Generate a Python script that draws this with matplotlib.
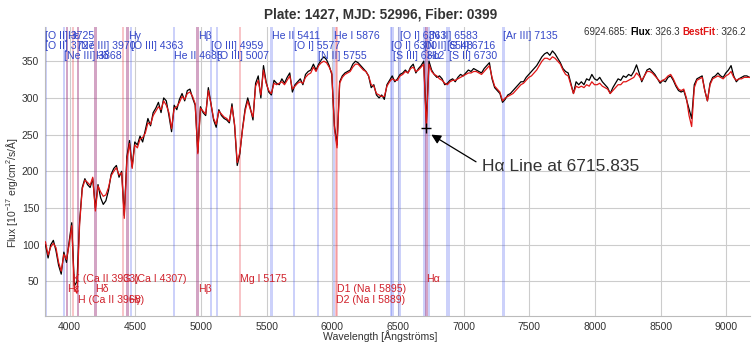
import numpy as np
import matplotlib
matplotlib.use("Agg")
import matplotlib.pyplot as plt
from matplotlib.offsetbox import TextArea, HPacker, AnnotationBbox

plt.rcParams['font.family'] = ['Liberation Sans', 'DejaVu Sans']
plt.rcParams['mathtext.fontset'] = 'custom'
plt.rcParams['mathtext.rm'] = 'Liberation Sans'
plt.rcParams['mathtext.it'] = 'Liberation Sans:italic'

wave_start = 3815.835
wave_step = 20.0
flux = [100, 82, 100, 106, 92, 72, 60, 90, 76, 104,
        130, 44, 50, 132, 178, 190, 182, 178, 190, 150,
        182, 164, 155, 160, 174, 196, 204, 208, 192, 200,
        140, 220, 242, 206, 240, 236, 248, 240, 256, 272,
        262, 280, 286, 294, 280, 300, 296, 276, 254, 290,
        284, 298, 306, 296, 310, 312, 300, 290, 226, 288,
        280, 276, 314, 292, 270, 260, 284, 276, 272, 270,
        266, 292, 262, 208, 224, 258, 285, 300, 286, 270,
        320, 330, 300, 344, 322, 308, 304, 324, 320, 318,
        326, 320, 328, 334, 308, 318, 322, 326, 318, 332,
        336, 338, 346, 338, 346, 352, 356, 352, 344, 332,
        262, 236, 322, 330, 334, 336, 338, 346, 350, 348,
        344, 340, 336, 330, 314, 318, 304, 300, 304, 298,
        318, 324, 330, 322, 326, 332, 334, 338, 334, 342,
        346, 334, 340, 344, 350, 266, 350, 338, 332, 328,
        330, 326, 318, 320, 324, 326, 322, 328, 332, 330,
        334, 338, 336, 340, 338, 336, 334, 340, 344, 348,
        326, 314, 310, 306, 294, 298, 304, 306, 310, 314,
        318, 322, 322, 328, 332, 336, 340, 344, 350, 356,
        360, 362, 358, 364, 360, 354, 348, 340, 336, 334,
        320, 306, 322, 318, 322, 318, 326, 324, 332, 326,
        324, 328, 322, 318, 314, 306, 314, 320, 326, 324,
        330, 328, 332, 330, 336, 345, 334, 322, 330, 338,
        340, 336, 332, 326, 320, 324, 322, 328, 330, 324,
        316, 310, 308, 310, 298, 285, 272, 318, 326, 328,
        330, 310, 296, 320, 328, 330, 334, 330, 328, 334,
        338, 344, 330, 322, 326, 328, 330, 330, 328]
bestfit = [104, 86, 97, 102, 96, 76, 64, 87, 80, 100,
           126, 40, 34, 128, 176, 188, 185, 181, 192, 146,
           180, 172, 166, 168, 178, 194, 200, 205, 195, 198,
           136, 216, 238, 204, 236, 232, 244, 246, 252, 266,
           264, 276, 282, 288, 284, 296, 290, 280, 258, 286,
           288, 294, 302, 298, 306, 308, 302, 292, 224, 286,
           282, 278, 310, 292, 272, 264, 282, 278, 274, 272,
           268, 288, 264, 212, 226, 256, 282, 296, 284, 274,
           316, 324, 304, 338, 320, 310, 306, 320, 318, 320,
           322, 318, 324, 330, 312, 316, 320, 322, 320, 328,
           332, 334, 342, 336, 344, 348, 350, 348, 342, 334,
           258, 232, 320, 328, 332, 334, 336, 342, 346, 346,
           342, 338, 336, 330, 318, 316, 306, 304, 302, 302,
           316, 322, 326, 324, 324, 330, 332, 336, 334, 340,
           342, 336, 338, 342, 346, 259, 346, 336, 332, 330,
           326, 324, 320, 318, 322, 324, 324, 326, 328, 330,
           332, 334, 334, 336, 336, 334, 332, 336, 340, 344,
           328, 316, 312, 308, 296, 300, 302, 304, 306, 310,
           314, 318, 320, 324, 328, 330, 334, 338, 344, 350,
           354, 354, 352, 356, 354, 350, 346, 338, 332, 330,
           318, 306, 316, 314, 316, 314, 318, 316, 322, 318,
           318, 320, 316, 314, 312, 306, 310, 314, 318, 318,
           322, 322, 324, 326, 328, 334, 330, 324, 330, 336,
           336, 334, 330, 326, 322, 324, 326, 330, 332, 326,
           318, 312, 310, 312, 300, 276, 261, 314, 324, 326,
           328, 310, 296, 318, 326, 328, 330, 328, 326, 330,
           332, 336, 328, 324, 326, 326, 328, 328, 328]

redshift = 0.02332

emission_names = ["[O II] 3725", "[O II] 3727", "[Ne III] 3868", "Hε", "[Ne III] 3970",
                  "Hδ", "Hγ", "[O III] 4363", "He II 4685", "Hβ", "[O III] 4959",
                  "[O III] 5007", "He II 5411", "[O I] 5577", "[N II] 5755", "He I 5876",
                  "[O I] 6300", "[S III] 6312", "[O I] 6363", "[N II] 6548", "Hα",
                  "[N II] 6583", "[S II] 6716", "[S II] 6730", "[Ar III] 7135"]
emission_waves = [3726.03, 3728.82, 3868.76, 3889.05, 3970.07, 4101.73, 4340.46, 4363.21,
                  4685.7, 4861.33, 4958.91, 5006.84, 5411.52, 5577.34, 5754.59, 5875.68,
                  6300.30, 6312.06, 6363.78, 6548.05, 6562.80, 6583.45, 6716.44, 6730.82,
                  7135.8]
absorption_names = ["Hε", "K (Ca II 3933)", "H (Ca II 3968)", "Hδ", "G (Ca I 4307)", "Hγ",
                    "Hβ", "Mg I 5175", "D2 (Na I 5889)", "D1 (Na I 5895)", "Hα"]
absorption_waves = [3889.05, 3934.78, 3969.59, 4101.73, 4307.74, 4340.46,
                    4861.33, 5176.70, 5891.58, 5897.56, 6562.80]

ha_wave = 6715.835
ha_flux = 259

wave = wave_start + wave_step * np.arange(len(flux))

fig = plt.figure(figsize=(7.52, 3.42), dpi=100)
ax = fig.add_axes([44.7 / 752, 26 / 342, 705.3 / 752, 289.3 / 342])
ax.set_xlim(3810, 9180)
ax.set_ylim(3, 397)

ax.set_xticks(np.arange(4000, 9001, 500))
ax.set_yticks(np.arange(50, 351, 50))
ax.grid(True, color='#cccccc', lw=0.8)
ax.set_axisbelow(True)
ax.tick_params(length=0, labelsize=7.5, colors='#333333', pad=4)
for s in ['top', 'right']:
    ax.spines[s].set_visible(False)
for s in ['left', 'bottom']:
    ax.spines[s].set_color('#bbbbbb')

trans = ax.get_xaxis_transform()
em_rows = [0.968, 0.933, 0.899]
for i, (name, w) in enumerate(zip(emission_names, emission_waves)):
    wz = w * (1 + redshift)
    ax.axvspan(wz - 9, wz + 9, color='#4a5cf0', alpha=0.28, lw=0, zorder=1)
    ax.text(wz, em_rows[i % 3], name, transform=trans, color='#3346c8',
            fontsize=7.6, ha='left', va='center', zorder=5)

ab_rows = [0.093, 0.128, 0.055]
for i, (name, w) in enumerate(zip(absorption_names, absorption_waves)):
    wz = w * (1 + redshift)
    ax.axvspan(wz - 9, wz + 9, color='#e8303a', alpha=0.28, lw=0, zorder=1)
    ax.text(wz, ab_rows[i % 3], name, transform=trans, color='#d0202a',
            fontsize=7.6, ha='left', va='center', zorder=5)

ax.plot(wave, flux, color='black', lw=0.9, zorder=3)
ax.plot(wave, bestfit, color='#e01515', lw=0.9, zorder=4)

ax.plot(ha_wave, ha_flux, '+', color='black', ms=7, mew=1.0, zorder=6)
ax.annotate('', xy=(6754, 250), xytext=(7094, 213),
            arrowprops=dict(arrowstyle='-|>', color='black', lw=0.9,
                            mutation_scale=14, shrinkA=0, shrinkB=0))
ax.text(7139, 206, 'Hα Line at 6715.835', fontsize=12.5, color='#333333',
        ha='left', va='center')

fig.text(381 / 752, 0.959, 'Plate: 1427, MJD: 52996, Fiber: 0399', fontsize=9.8,
         fontweight='bold', color='#333333', ha='center', va='center')
fig.text(12 / 752, 0.436, r'Flux [10$^{-17}$ erg/cm$^{2}$/s/Å]', rotation=90,
         fontsize=7.5, color='#333333', ha='center', va='center')
fig.text(380 / 752, 0.018, 'Wavelength [Ångströms]', fontsize=7.6,
         color='#333333', ha='center', va='center')

# hover readout, top right
parts = [TextArea("6924.685: ", textprops=dict(fontsize=7, color='#333333')),
         TextArea("Flux", textprops=dict(fontsize=7, color='black', fontweight='bold')),
         TextArea(": 326.3 ", textprops=dict(fontsize=7, color='#333333')),
         TextArea("BestFit", textprops=dict(fontsize=7, color='#e01515', fontweight='bold')),
         TextArea(": 326.2", textprops=dict(fontsize=7, color='#333333'))]
box = HPacker(children=parts, align='baseline', pad=0, sep=0)
readout = AnnotationBbox(box, (0.991, 0.906), xycoords='figure fraction',
                         box_alignment=(1, 0.5), frameon=False, zorder=7)
fig.add_artist(readout)

fig.savefig('out.png', dpi=100)
